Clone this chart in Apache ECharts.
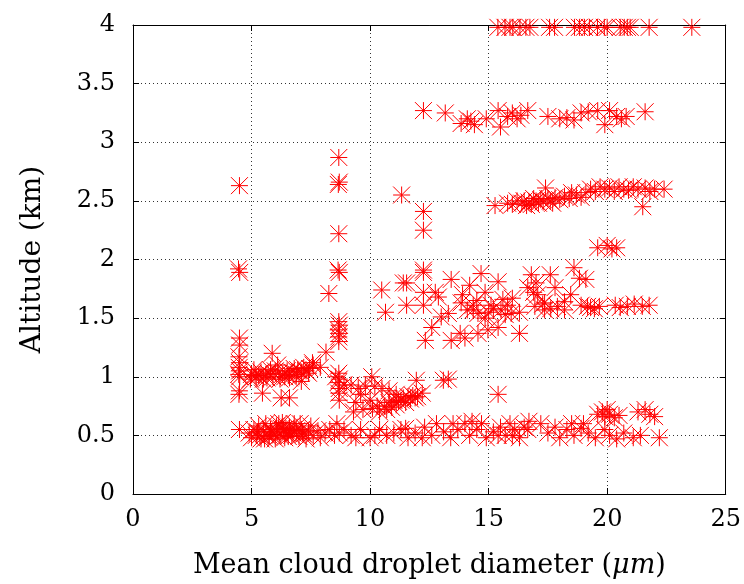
<!DOCTYPE html>
<html><head><meta charset="utf-8">
<script src="https://cdn.jsdelivr.net/npm/echarts@6/dist/echarts.min.js"></script>
<style>html,body{margin:0;padding:0;background:#fff}#c{width:744px;height:584px}</style>
</head><body><div id="c"></div>
<script>
// Axis ticks
const xTicks = [0, 5, 10, 15, 20, 25];
const yTicks = [0, 0.5, 1, 1.5, 2, 2.5, 3, 3.5, 4];

// Points grouped by visual cluster: [diameter (um), altitude (km)]
const col45 = [[4.49,2.63],[4.45,1.92],[4.5,1.89],[4.49,1.33],[4.5,1.27],[4.47,1.17],[4.5,1.12],[4.48,1.08],[4.5,1.05],[4.46,1.02],[4.5,1.0],[4.49,0.88],[4.47,0.85],[4.49,0.55]];
const band10 = [[5.0,1.02],[4.95,0.98],[5.1,1.06],[5.2,1.0],[5.3,1.01],[5.4,1.04],[5.5,0.98],[5.7,1.03],[5.9,1.0],[5.87,1.2],[6.0,1.05],[6.1,1.1],[6.2,0.98],[6.3,1.02],[6.5,1.05],[6.6,0.99],[6.8,1.07],[6.9,1.02],[7.0,1.0],[7.1,1.04],[7.2,1.08],[7.4,1.03],[7.6,1.1],[7.57,1.12],[7.9,1.08],[8.14,1.21],[5.46,0.86],[6.25,0.82],[6.6,0.82],[7.1,0.96],[5.6,1.02],[6.4,1.0],[6.7,1.04],[7.3,1.05],[5.8,1.06],[5.15,1.01],[5.65,0.99],[6.15,1.03],[6.55,1.01],[6.95,1.06],[7.45,1.07]];
const col87 = [[8.68,2.87],[8.7,2.66],[8.66,2.64],[8.68,2.22],[8.65,1.91],[8.7,1.89],[8.26,1.71],[8.68,1.47],[8.7,1.44],[8.66,1.4],[8.7,1.37],[8.68,1.34],[8.68,1.3],[8.68,1.03],[8.7,0.98],[8.65,0.95],[8.7,0.9],[8.68,0.86],[8.7,0.8],[8.55,1.0],[8.9,0.93]];
const band08 = [[9.2,0.93],[9.5,0.9],[9.6,0.85],[9.8,0.92],[10.07,1.0],[10.2,0.92],[10.0,0.8],[9.4,0.78],[9.7,0.72],[10.1,0.73],[10.3,0.75],[10.4,0.7],[10.6,0.75],[10.7,0.72],[10.8,0.78],[10.9,0.74],[11.0,0.8],[11.1,0.76],[11.2,0.79],[11.3,0.8],[11.4,0.82],[11.5,0.78],[11.6,0.83],[11.7,0.81],[11.8,0.84],[11.9,0.82],[12.0,0.83],[12.2,0.86],[11.95,0.97],[10.5,0.9],[10.8,0.88],[11.1,0.85],[9.3,0.7],[13.09,0.97],[13.3,0.98],[15.4,0.85]];
const band05 = [[4.9,0.52],[5.0,0.48],[5.1,0.55],[5.2,0.5],[5.3,0.58],[5.4,0.47],[5.5,0.53],[5.6,0.6],[5.7,0.49],[5.8,0.55],[5.9,0.51],[6.0,0.47],[6.05,0.58],[6.1,0.53],[6.2,0.5],[6.3,0.61],[6.35,0.55],[6.4,0.48],[6.5,0.52],[6.6,0.57],[6.7,0.5],[6.8,0.6],[6.9,0.54],[7.0,0.49],[7.1,0.55],[7.2,0.51],[7.3,0.47],[7.4,0.53],[7.5,0.58],[7.6,0.5],[7.8,0.54],[7.9,0.48],[8.1,0.52],[8.3,0.55],[8.5,0.5],[8.6,0.6],[8.7,0.52],[8.9,0.55],[5.25,0.53],[5.75,0.5],[6.25,0.56],[6.75,0.52],[6.15,0.6],[5.55,0.47],[7.05,0.6],[6.45,0.56],[5.35,0.5],[5.85,0.53],[6.55,0.49],[7.15,0.52],[6.65,0.54],
[9.2,0.5],[9.4,0.48],[9.6,0.55],[10.0,0.48],[10.2,0.5],[10.4,0.55],[10.7,0.5],[11.0,0.52],[11.3,0.55],[11.5,0.56],[11.6,0.48],[11.9,0.52],[12.2,0.48],[12.3,0.57],[12.6,0.5],[12.8,0.6],[13.1,0.53],[13.4,0.48],[13.5,0.6],[13.7,0.55],[14.0,0.6],[14.2,0.5],[14.3,0.62],[14.5,0.55],[14.7,0.6],[14.9,0.48],[15.2,0.53],[15.4,0.5],[15.5,0.57],[15.7,0.5],[15.9,0.6],[16.0,0.5],[16.1,0.55],[16.3,0.48],[16.5,0.57],[16.7,0.62],
[16.65,0.55],[17.2,0.6],[17.5,0.52],[17.8,0.57],[18.0,0.48],[18.3,0.55],[18.5,0.6],[18.6,0.5],[18.9,0.56],[19.0,0.6],[19.2,0.52],[19.5,0.48],[19.9,0.55],[20.1,0.5],[20.4,0.47],[20.7,0.52],[21.1,0.48],[21.4,0.5],[22.2,0.48],
[19.6,0.68],[19.8,0.7],[19.9,0.66],[20.0,0.72],[20.1,0.68],[20.3,0.65],[20.5,0.67],[21.3,0.7],[21.6,0.72],[21.8,0.68],[22.0,0.66]];
const band16 = [[10.49,1.74],[10.65,1.55],[11.4,1.8],[11.54,1.8],[11.54,1.61],[12.25,1.91],[12.25,1.72],[12.25,1.61],[12.75,1.72],[12.88,1.68],[13.42,1.83],[13.3,1.54],[13.84,1.63],[14.2,1.78],[14.35,1.61],[14.35,1.57],[14.68,1.88],[14.85,1.72],[15.1,1.61],[15.4,1.81],[15.52,1.57],[15.8,1.61],[16.0,1.67],[16.3,1.55],[16.8,1.87],[16.65,1.76],[17.07,1.7],[17.36,1.63],[17.6,1.87],[17.8,1.76],[18.2,1.64],[18.6,1.93],[18.83,1.84],[19.1,1.83],[18.46,1.7],[18.9,1.61],[19.3,1.59],[14.1,1.57],[14.55,1.54],[15.7,1.53],[15.95,1.54],[13.0,1.51],[14.85,1.5],[17.36,1.57],[14.5,1.65],[15.2,1.58],[15.6,1.66],[13.9,1.7],[15.0,1.55],
[12.6,1.42],[12.33,1.31],[13.42,1.31],[13.8,1.37],[14.55,1.37],[15.4,1.42],[16.3,1.37],[14.0,1.33],[14.97,1.4],
[16.95,1.6],[17.28,1.62],[17.62,1.58],[17.9,1.6],[18.2,1.57],[19.17,1.6],[19.46,1.58],[19.67,1.6],[20.34,1.61],[20.55,1.59],[20.85,1.6],[21.14,1.62],[21.48,1.6],[21.77,1.61],[17.0,1.8],[16.9,1.72]];
const band21 = [[11.33,2.55],[12.25,2.41],[12.25,2.25],[12.25,1.89],[19.6,2.1],[20.0,2.12],[20.2,2.09],[20.4,2.1]];
const band25 = [[15.27,2.46],[15.8,2.48],[16.0,2.47],[16.2,2.5],[16.4,2.48],[16.5,2.5],[16.6,2.46],[16.7,2.49],[16.8,2.47],[16.9,2.52],[17.0,2.5],[17.1,2.48],[17.2,2.51],[17.3,2.49],[17.4,2.61],[17.5,2.52],[17.6,2.5],[17.7,2.48],[17.8,2.53],[18.0,2.51],[18.2,2.54],[18.4,2.52],[18.5,2.57],[18.7,2.55],[18.9,2.53],[19.1,2.57],[19.3,2.6],[19.5,2.58],[19.7,2.62],[19.9,2.6],[20.1,2.61],[20.3,2.58],[20.5,2.62],[20.7,2.6],[20.9,2.59],[21.1,2.62],[21.3,2.6],[21.5,2.45],[21.6,2.61],[21.8,2.58],[22.0,2.6],[22.4,2.6]];
const band32 = [[12.25,3.27],[13.17,3.25],[13.84,3.16],[14.1,3.2],[14.25,3.18],[14.4,3.15],[14.9,3.2],[15.4,3.27],[15.5,3.13],[15.8,3.22],[16.0,3.25],[16.2,3.2],[16.36,3.23],[16.65,3.27],[17.5,3.22],[18.0,3.2],[18.3,3.21],[18.6,3.19],[18.9,3.25],[19.2,3.26],[19.6,3.27],[19.9,3.15],[20.1,3.27],[20.4,3.22],[20.6,3.2],[20.8,3.22],[21.6,3.26]];
const band40 = [[15.39,3.98],[15.69,3.98],[15.9,3.98],[16.02,3.98],[16.32,3.98],[16.57,3.98],[16.74,3.98],[17.57,3.98],[17.78,3.98],[18.62,3.98],[18.83,3.98],[19.04,3.98],[19.25,3.98],[19.59,3.98],[19.88,3.98],[20.0,3.98],[20.55,3.98],[20.72,3.98],[20.85,3.98],[20.97,3.98],[21.77,3.98],[23.57,3.98]];

const allPoints = [].concat(col45, band10, col87, band08, band05, band16, band21, band25, band32, band40);

const font = 'DejaVu Serif';
const chart = echarts.init(document.getElementById('c'), null, {renderer: 'canvas'});
const axisCommon = {
  axisLine: {show: true, onZero: false, lineStyle: {color: '#000', width: 1}},
  axisTick: {show: true, inside: true, length: 6, lineStyle: {color: '#000'}},
  splitLine: {show: false}
};
chart.setOption({
  animation: false,
  backgroundColor: '#fff',
  grid: {left: 133, right: 15, top: 25, bottom: 90, containLabel: false},
  xAxis: [
    Object.assign({}, axisCommon, {
      type: 'value', min: xTicks[0], max: xTicks[xTicks.length-1], interval: 5, position: 'bottom',
      axisLabel: {color: '#000', fontFamily: font, fontSize: 24, margin: 14},
      splitLine: {show: true, lineStyle: {color: '#333', type: [1, 3], width: 1}},
      name: 'Mean cloud droplet diameter ({i|μm})',
      nameLocation: 'middle', nameGap: 58,
      nameTextStyle: {color: '#000', fontFamily: font, fontSize: 27,
        rich: {i: {fontStyle: 'italic', fontFamily: font, fontSize: 27, color: '#000'}}}
    }),
    Object.assign({}, axisCommon, {
      type: 'value', min: 0, max: 25, interval: 5, position: 'top',
      axisLabel: {show: false}
    })
  ],
  yAxis: [
    Object.assign({}, axisCommon, {
      type: 'value', min: yTicks[0], max: yTicks[yTicks.length-1], interval: 0.5, position: 'left',
      axisLabel: {color: '#000', fontFamily: font, fontSize: 24, margin: 18},
      splitLine: {show: true, lineStyle: {color: '#333', type: [1, 3], width: 1}},
      name: 'Altitude (km)', nameLocation: 'middle', nameGap: 86,
      nameTextStyle: {color: '#000', fontFamily: font, fontSize: 28}
    }),
    Object.assign({}, axisCommon, {
      type: 'value', min: 0, max: 4, interval: 0.5, position: 'right',
      axisLabel: {show: false}
    })
  ],
  series: [{
    type: 'scatter',
    xAxisIndex: 0, yAxisIndex: 0,
    data: allPoints,
    symbol: 'path://M0,-10L0,10M-10,0L10,0M-10,-10L10,10M-10,10L10,-10',
    symbolSize: 17,
    itemStyle: {color: 'rgba(0,0,0,0)', borderColor: '#ff0000', borderWidth: 1, opacity: 1},
    emphasis: {disabled: true}
  }]
});
</script>
</body></html>
